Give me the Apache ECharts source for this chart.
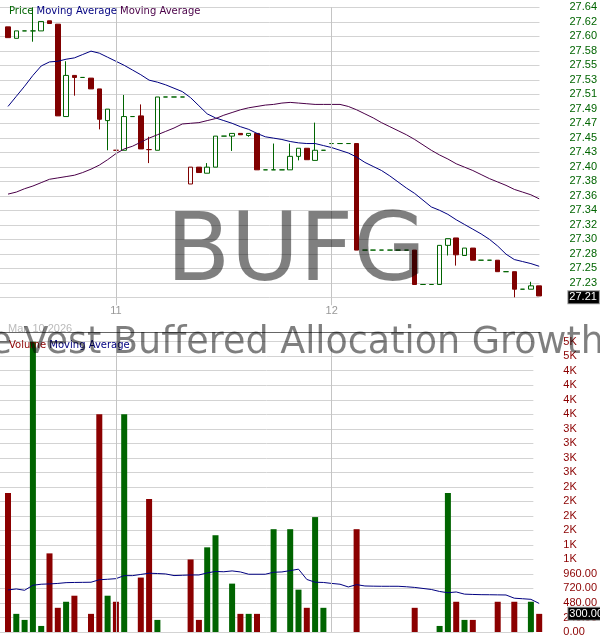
<!DOCTYPE html>
<html><head><meta charset="utf-8">
<script src="https://cdn.jsdelivr.net/npm/echarts@6/dist/echarts.min.js"></script>
<style>html,body{margin:0;padding:0;background:#fff}#c{width:600px;height:640px}</style>
</head><body><div id="c"></div>
<script>
// ---------- DATA ----------
const categories = [
 '2026-03-10 12:45','2026-03-10 13:00','2026-03-10 13:15','2026-03-10 13:30','2026-03-10 13:45','2026-03-10 14:00','2026-03-10 14:15','2026-03-10 14:30','2026-03-10 14:45','2026-03-10 15:00','2026-03-10 15:15','2026-03-10 15:30','2026-03-10 15:45',
 '2026-03-11 09:30','2026-03-11 09:45','2026-03-11 10:00','2026-03-11 10:15','2026-03-11 10:30','2026-03-11 10:45','2026-03-11 11:00','2026-03-11 11:15','2026-03-11 11:30','2026-03-11 11:45','2026-03-11 12:00','2026-03-11 12:15','2026-03-11 12:30','2026-03-11 12:45','2026-03-11 13:00','2026-03-11 13:15','2026-03-11 13:30','2026-03-11 13:45','2026-03-11 14:00','2026-03-11 14:15','2026-03-11 14:30','2026-03-11 14:45','2026-03-11 15:00','2026-03-11 15:15','2026-03-11 15:30','2026-03-11 15:45',
 '2026-03-12 09:30','2026-03-12 09:45','2026-03-12 10:00','2026-03-12 10:15','2026-03-12 10:30','2026-03-12 10:45','2026-03-12 11:00','2026-03-12 11:15','2026-03-12 11:30','2026-03-12 11:45','2026-03-12 12:00','2026-03-12 12:15','2026-03-12 12:30','2026-03-12 12:45','2026-03-12 13:00','2026-03-12 13:15','2026-03-12 13:30','2026-03-12 13:45','2026-03-12 14:00','2026-03-12 14:15','2026-03-12 14:30','2026-03-12 14:45','2026-03-12 15:00','2026-03-12 15:15','2026-03-12 15:30','2026-03-12 15:45'
];
const opens = [
 27.611,27.594,27.605,27.605,27.605,27.620,27.615,27.478,27.539,27.536,
 27.535,27.519,27.472,27.428,27.428,27.478,27.479,27.429,27.428,27.507,
 27.507,27.507,27.378,27.403,27.394,27.403,27.449,27.449,27.453,27.450,
 27.453,27.399,27.399,27.399,27.399,27.419,27.431,27.413,27.428,27.438,
 27.438,27.438,27.438,27.280,27.280,27.280,27.280,27.280,27.280,27.280,
 27.229,27.229,27.229,27.287,27.298,27.272,27.283,27.265,27.265,27.265,
 27.248,27.248,27.222,27.222,27.227
];
const closes = [
 27.595,27.605,27.605,27.605,27.619,27.616,27.479,27.539,27.536,27.536,
 27.519,27.474,27.489,27.428,27.478,27.478,27.430,27.429,27.507,27.507,
 27.507,27.507,27.403,27.395,27.403,27.449,27.449,27.453,27.451,27.453,
 27.399,27.399,27.399,27.399,27.419,27.431,27.414,27.428,27.428,27.438,
 27.438,27.438,27.280,27.280,27.280,27.280,27.280,27.280,27.280,27.229,
 27.229,27.229,27.287,27.297,27.273,27.283,27.265,27.265,27.265,27.248,
 27.248,27.222,27.222,27.227,27.212
];
const lows = [
 27.595,27.594,27.605,27.589,27.605,27.616,27.479,27.478,27.509,27.536,
 27.519,27.459,27.428,27.428,27.428,27.478,27.430,27.409,27.428,27.507,
 27.507,27.507,27.378,27.395,27.394,27.403,27.449,27.427,27.451,27.448,
 27.399,27.399,27.399,27.399,27.399,27.413,27.414,27.413,27.428,27.438,
 27.438,27.438,27.280,27.280,27.280,27.280,27.280,27.280,27.280,27.229,
 27.229,27.229,27.229,27.272,27.257,27.272,27.265,27.265,27.265,27.248,
 27.248,27.210,27.222,27.222,27.212
];
const highs = [
 27.611,27.605,27.605,27.640,27.619,27.620,27.615,27.560,27.539,27.536,
 27.535,27.519,27.489,27.428,27.510,27.478,27.496,27.448,27.507,27.507,
 27.507,27.507,27.403,27.403,27.409,27.449,27.449,27.453,27.453,27.453,
 27.453,27.399,27.438,27.399,27.438,27.431,27.431,27.469,27.428,27.438,
 27.438,27.438,27.438,27.280,27.280,27.280,27.280,27.280,27.280,27.280,
 27.229,27.229,27.287,27.297,27.298,27.283,27.283,27.265,27.265,27.265,
 27.248,27.248,27.222,27.233,27.227
];
const maShort = [
 27.493,27.508,27.523,27.539,27.553,27.559,27.560,27.563,27.565,27.570,
 27.575,27.572,27.566,27.560,27.554,27.547,27.540,27.532,27.529,27.525,
 27.520,27.515,27.506,27.494,27.482,27.476,27.472,27.468,27.463,27.459,
 27.453,27.448,27.446,27.444,27.441,27.439,27.438,27.438,27.435,27.432,
 27.428,27.424,27.418,27.410,27.404,27.398,27.390,27.381,27.372,27.364,
 27.354,27.344,27.339,27.333,27.325,27.318,27.311,27.304,27.296,27.286,
 27.274,27.266,27.263,27.260,27.256
];
const maLong = [
 27.363,27.366,27.371,27.375,27.380,27.385,27.387,27.389,27.391,27.395,
 27.400,27.406,27.414,27.423,27.430,27.434,27.440,27.446,27.451,27.456,
 27.461,27.467,27.468,27.469,27.472,27.475,27.480,27.484,27.488,27.491,
 27.493,27.495,27.496,27.498,27.499,27.498,27.497,27.496,27.496,27.496,
 27.496,27.493,27.488,27.482,27.476,27.469,27.463,27.457,27.451,27.444,
 27.436,27.428,27.421,27.415,27.408,27.403,27.398,27.392,27.386,27.381,
 27.376,27.370,27.366,27.362,27.356
];
const volumes = [
 2300,300,200,4800,100,1300,400,500,600,0,
 300,3600,600,500,3600,0,900,2200,200,0,
 0,0,1200,200,1400,1600,0,800,300,300,
 300,0,1700,0,1700,700,400,1900,400,0,
 0,0,1700,0,0,0,0,0,0,400,
 0,0,100,2300,500,200,200,0,0,500,
 0,500,0,500,300
];
const volumeMA = [
 695,712,690,773,790,795,803,816,819,821,
 823,864,872,882,932,932,952,972,967,960,
 933,938,943,943,977,1001,996,1010,993,955,
 955,955,988,993,1015,1039,869,823,819,803,
 790,745,783,761,758,756,756,756,748,737,
 720,703,670,649,662,626,621,617,616,614,
 612,559,550,540,472
];
const priceTickLabels = ['27.21','27.23','27.25','27.28','27.30','27.32','27.34','27.36','27.38','27.40','27.43','27.45','27.47','27.49','27.51','27.53','27.55','27.58','27.60','27.62','27.64'];
const volumeTickLabels = ['0.00','240.00','480.00','720.00','960.00','1K','1K','2K','2K','2K','2K','3K','3K','3K','3K','4K','4K','4K','4K','5K','5K'];
const priceMin = 27.21, priceMax = 27.64, volMax = 4800;

// ---------- STYLE ----------
const GREEN = '#006400', RED = '#800000', VRED = '#8b0000', NAVY = '#000080', PURPLE = '#4a0048';
const GRID_C = '#d3d3d3', DAY_C = '#c4c4c4';

const n = categories.length;
const dayStarts = [];
for (let i = 1; i < n; i++) if (categories[i].slice(0,10) !== categories[i-1].slice(0,10)) dayStarts.push(i);
const isDayStart = (i) => dayStarts.indexOf(i) >= 0;

const strokeOf = categories.map((c, i) => {
  const up = i > 0 ? closes[i] >= closes[i-1] : closes[i] >= opens[i];
  return up ? GREEN : RED;
});
const candleData = categories.map((c, i) => {
  const s = strokeOf[i];
  const fill = closes[i] > opens[i] ? 'rgba(255,255,255,0)' : s;
  return { value: [opens[i], closes[i], lows[i], highs[i]],
    itemStyle: { color: fill, color0: fill, borderColor: s, borderColor0: s, borderColorDoji: s } };
});
const volData = volumes.map((v, i) => ({ value: v, itemStyle: { color: strokeOf[i] === GREEN ? GREEN : VRED } }));

const chart = echarts.init(document.getElementById('c'), null, { renderer: 'canvas' });
const L = 3.85, W = 539.5;
const axFont = 'Liberation Sans';

const dayLines = dayStarts.map(i => ({ xAxis: categories[i] }));
const boxLabel = (txt) => ({ show: true, position: 'end', distance: 25, formatter: txt, color: '#fff', backgroundColor: '#000',
  fontSize: 11, fontFamily: axFont, padding: [1, 2, 0, 1], borderColor: '#999', borderWidth: 1, opacity: 1 });

chart.setOption({
  animation: false,
  backgroundColor: '#fff',
  title: [
    { left: 4, top: 1, text: '{g|Price} {b|Moving Average} {p|Moving Average}',
      textStyle: { fontSize: 10, fontFamily: 'DejaVu Sans', fontWeight: 'normal',
        rich: { g: { color: GREEN, fontSize: 10, fontFamily: 'DejaVu Sans' },
                b: { color: NAVY, fontSize: 10, fontFamily: 'DejaVu Sans' },
                p: { color: PURPLE, fontSize: 10, fontFamily: 'DejaVu Sans' } } } },
    { left: 4, top: 335, text: '{r|Volume} {b|Moving Average}',
      textStyle: { fontSize: 10, fontFamily: 'DejaVu Sans', fontWeight: 'normal',
        rich: { r: { color: VRED, fontSize: 10, fontFamily: 'DejaVu Sans' },
                b: { color: NAVY, fontSize: 10, fontFamily: 'DejaVu Sans' } } } },
    { left: 3, top: 318, text: 'Mar, 10 2026',
      textStyle: { fontSize: 11, fontFamily: axFont, fontWeight: 'normal', color: '#bbbbbb' } }
  ],
  graphic: [
    { type: 'line', shape: { x1: 0, y1: 332.5, x2: 540, y2: 332.5 }, style: { stroke: '#666', lineWidth: 1 }, z: 5 },
    { type: 'text', x: 296, y: 256, z: 20, style: { text: 'BUFG', font: '94px "DejaVu Sans"', fill: 'rgba(0,0,0,0.5)', align: 'center', verticalAlign: 'middle' } },
    { type: 'text', x: 273, y: 344, z: 20, style: { text: 'FT Cboe Vest Buffered Allocation Growth ETF', font: '36.5px "DejaVu Sans"', fill: 'rgba(0,0,0,0.5)', align: 'center', verticalAlign: 'middle' } }
  ],
  grid: [
    { left: L, top: 7.3, width: W, height: 290 },
    { left: L, top: 341.7, width: W, height: 290.3 },
    { left: 0, top: 7.3, width: 540, height: 290 },
    { left: 0, top: 341.7, width: 540, height: 290.3 }
  ],
  xAxis: [
    { type: 'category', gridIndex: 0, data: categories, boundaryGap: true,
      axisLine: { show: false },
      axisTick: { show: true, alignWithLabel: true, interval: (i) => isDayStart(i), length: 8, lineStyle: { color: DAY_C } },
      axisLabel: { interval: (i) => isDayStart(i), formatter: (v) => String(parseInt(v.slice(8,10), 10)), color: '#999', fontSize: 11, fontFamily: axFont, margin: 8 },
      splitLine: { show: false } },
    { type: 'category', gridIndex: 1, data: categories, boundaryGap: true, show: false },
    { type: 'value', gridIndex: 2, min: 0, max: 1, show: false },
    { type: 'value', gridIndex: 3, min: 0, max: 1, show: false }
  ],
  yAxis: [
    { type: 'value', gridIndex: 0, min: priceMin, max: priceMax, show: false, splitLine: { show: false } },
    { type: 'value', gridIndex: 1, min: 0, max: volMax, show: false, splitLine: { show: false } },
    { type: 'value', gridIndex: 2, min: 0, max: 20, interval: 1, position: 'right',
      axisLine: { show: false }, axisTick: { show: false },
      splitLine: { show: true, lineStyle: { color: GRID_C, width: 1 } },
      axisLabel: { formatter: (v) => priceTickLabels[Math.round(v)], color: GREEN, fontSize: 11, fontFamily: axFont, margin: 30, align: 'left' } },
    { type: 'value', gridIndex: 3, min: 0, max: 20, interval: 1, position: 'right',
      axisLine: { show: false }, axisTick: { show: false },
      splitLine: { show: true, lineStyle: { color: GRID_C, width: 1 } },
      axisLabel: { formatter: (v) => volumeTickLabels[Math.round(v)], color: VRED, fontSize: 11, fontFamily: axFont, margin: 30, align: 'left' } }
  ],
  series: [
    { type: 'candlestick', name: 'Price', xAxisIndex: 0, yAxisIndex: 0, data: candleData, barWidth: 5, z: 3,
      markLine: { silent: true, symbol: ['none', 'none'], animation: false,
        data: [
          ...dayLines.map(d => Object.assign({ lineStyle: { color: DAY_C, width: 1, type: 'solid' }, label: { show: false } }, d)),
          { yAxis: closes[n-1], lineStyle: { color: 'rgba(0,0,0,0)', width: 1 }, label: boxLabel(closes[n-1].toFixed(2)) }
        ] } },
    { type: 'line', name: 'MA short', xAxisIndex: 0, yAxisIndex: 0, data: maShort, showSymbol: false, symbol: 'none',
      lineStyle: { color: NAVY, width: 1 }, z: 4 },
    { type: 'line', name: 'MA long', xAxisIndex: 0, yAxisIndex: 0, data: maLong, showSymbol: false, symbol: 'none',
      lineStyle: { color: PURPLE, width: 1 }, z: 4 },
    { type: 'bar', name: 'Volume', xAxisIndex: 1, yAxisIndex: 1, data: volData, barWidth: 6, z: 3,
      markLine: { silent: true, symbol: ['none', 'none'], animation: false,
        data: [
          ...dayLines.map(d => Object.assign({ lineStyle: { color: DAY_C, width: 1, type: 'solid' }, label: { show: false } }, d)),
          { yAxis: volumes[n-1], lineStyle: { color: 'rgba(0,0,0,0)', width: 1 }, label: boxLabel(volumes[n-1].toFixed(2)) }
        ] } },
    { type: 'line', name: 'Volume MA', xAxisIndex: 1, yAxisIndex: 1, data: volumeMA, showSymbol: false, symbol: 'none',
      lineStyle: { color: NAVY, width: 1 }, z: 4 }
  ]
});
</script></body></html>
